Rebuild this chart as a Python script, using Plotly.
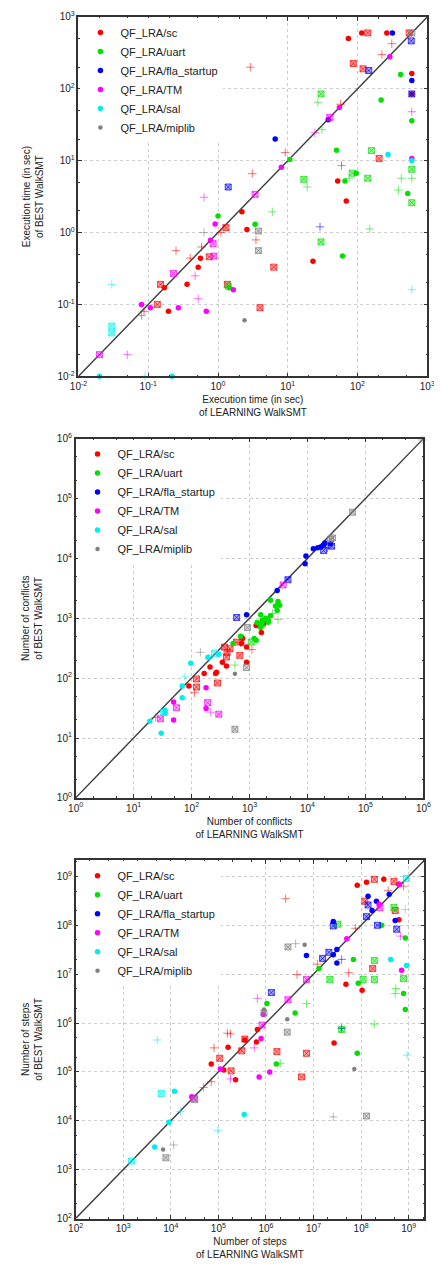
import plotly.graph_objects as go

FAMILIES = ["QF_LRA/sc", "QF_LRA/uart", "QF_LRA/fla_startup", "QF_LRA/TM", "QF_LRA/sal", "QF_LRA/miplib"]

# ---------------- Execution time (sec): (LEARNING, BEST) ----------------
TIME_SC_DOT = [(74, 500), (115, 600), (263, 600), (600, 163), (600, 85), (52, 5.2), (69, 2.75), (2.2, 1.94), (2.6, 1.1), (23, 0.40), (0.56, 0.44), (0.52, 0.33), (0.36, 0.19), (0.17, 0.17), (0.195, 0.08)]
TIME_SC_BOX = [(140, 600), (550, 600), (87, 225), (120, 190), (204, 10.7), (1.3, 1.17), (6.3, 0.33), (0.75, 0.46), (0.15, 0.19), (0.135, 0.1), (1.36, 0.19), (4.0, 0.09)]
TIME_SC_PLUS = [(310, 425), (224, 300), (2.9, 200), (57, 61), (9.2, 13), (59, 8.6), (3.1, 6.6), (1.1, 1.0), (3.5, 0.79), (0.58, 0.63), (0.4, 0.44), (0.25, 0.56), (0.087, 0.08)]
TIME_UART_DOT = [(415, 158), (218, 70), (600, 36), (50, 14), (10.7, 10.4), (96, 6.7), (66, 5.2), (525, 3.5), (1.0, 1.7), (3.4, 1.3), (61, 0.47), (1.45, 0.17)]
TIME_UART_BOX = [(30, 85), (158, 13.8), (84, 6.7), (140, 5.7), (17, 5.5), (600, 7.6), (600, 2.6), (30, 0.74), (1.4, 0.18)]
TIME_UART_PLUS = [(27, 65), (31, 27), (600, 5.7), (425, 5.7), (386, 3.9), (76, 5.7), (19, 4.3), (6, 1.94), (150, 1.12)]
TIME_FLA_DOT = [(316, 600), (600, 131), (38, 37), (6.6, 20)]
TIME_FLA_BOX = [(590, 465), (145, 180), (600, 85), (1.4, 4.3)]
TIME_FLA_PLUS = [(29, 1.2)]
TIME_TM_DOT = [(290, 280), (55, 55), (8.1, 8.1), (600, 10.7), (0.91, 1.32), (0.78, 0.78), (1.66, 0.16), (0.08, 0.1), (0.107, 0.09), (0.27, 0.09), (0.68, 0.08)]
TIME_TM_BOX = [(40, 40), (3.4, 3.4), (0.85, 0.7), (0.87, 0.47), (0.23, 0.27), (0.02, 0.02)]
TIME_TM_PLUS = [(24.5, 24.5), (600, 48), (0.63, 3.1), (0.47, 0.25), (0.52, 0.12), (0.08, 0.07), (0.05, 0.02)]
TIME_SAL_DOT = [(274, 12.2), (600, 10), (0.02, 0.01), (0.22, 0.01)]
TIME_SAL_BOX = [(0.03, 0.05), (0.03, 0.04)]
TIME_SAL_PLUS = [(600, 0.16), (0.03, 0.19), (0.09, 0.01)]
TIME_MIP_DOT = [(2.4, 0.06)]
TIME_MIP_BOX = [(600, 600), (3.8, 1.05), (3.8, 0.56)]
TIME_MIP_PLUS = [(0.63, 1.0)]

# ---------------- Number of conflicts: (LEARNING, BEST) ----------------
CONF_SC_DOT = [(1300, 760), (1600, 580), (760, 460), (730, 380), (890, 330), (340, 185), (400, 160), (890, 185), (270, 126), (260, 120), (208, 153), (165, 120), (90, 74), (730, 480), (1750, 820)]
CONF_SC_BOX = [(680, 240), (370, 330), (410, 270), (460, 310), (400, 225), (280, 83), (122, 97), (122, 71), (600, 400)]
CONF_SC_PLUS = [(1100, 300), (112, 57), (700, 390), (1900, 850)]
CONF_UART_DOT = [(2300, 2000), (3100, 1900), (2800, 1600), (3300, 1650), (3000, 1350), (1560, 1150), (1900, 1000), (2100, 930), (2300, 1100), (1650, 930), (1350, 850), (1560, 700), (1200, 460), (1600, 820), (2100, 860), (700, 500), (520, 380), (1300, 430)]
CONF_UART_BOX = [(1070, 400), (1600, 780)]
CONF_UART_PLUS = [(3100, 950), (560, 165), (2500, 1200)]
CONF_FLA_DOT = [(12600, 14500), (15000, 15000), (19000, 16700), (20000, 18000), (25000, 17500), (9400, 11000), (9100, 8100), (3000, 2900), (890, 1150), (17000, 15500)]
CONF_FLA_BOX = [(19000, 13500), (4600, 4400), (600, 1030), (26000, 16000)]
CONF_FLA_PLUS = [(22000, 15000)]
CONF_TM_DOT = [(178, 69), (178, 31), (49, 40), (49, 20)]
CONF_TM_BOX = [(3800, 3600), (190, 39), (295, 25), (55, 32), (29, 21)]
CONF_TM_PLUS = [(215, 27), (24, 22)]
CONF_SAL_DOT = [(192, 224), (295, 250), (97, 178), (69, 74), (69, 47), (35, 29), (35, 26), (19, 19), (30, 12)]
CONF_SAL_BOX = [(250, 260), (33, 27)]
CONF_SAL_PLUS = [(77, 105), (200, 215)]
CONF_MIP_DOT = [(560, 118)]
CONF_MIP_BOX = [(60000, 59000), (25000, 21000), (920, 700), (890, 150), (560, 14), (27000, 22000)]
CONF_MIP_PLUS = [(142, 270), (950000, 950000)]

# ---------------- Number of steps: (LEARNING, BEST) ----------------
STEP_SC_DOT = [(8.3e7, 6.6e8), (1.3e8, 7.6e8), (3.0e8, 8.7e8), (6.2e8, 6.9e8), (6.2e8, 1.3e8), (4.8e7, 6.2e6), (1.05e8, 4.7e6), (2.7e7, 3.9e5), (6.6e5, 7.4e5), (6.3e5, 4.1e5), (1.6e5, 3.2e5), (3.6e5, 4.5e5), (7.1e4, 1.45e5), (1.3e5, 1.1e5), (2.3e5, 6.9e4)]
STEP_SC_BOX = [(1.9e8, 8.7e8), (4.9e8, 7.9e8), (1.2e8, 3.1e8), (5.2e8, 2.0e8), (1.75e8, 1.3e7), (3.6e5, 4.7e5), (3.1e5, 2.7e5), (1.7e6, 2.6e5), (7.1e6, 2.4e5), (1.07e5, 1.9e5), (1.85e5, 1.05e5), (5.6e6, 7.9e4)]
STEP_SC_PLUS = [(3.7e8, 5.1e8), (7.8e8, 6.3e8), (2.6e6, 3.5e8), (7.6e7, 8.7e7), (1.2e7, 1.6e7), (5.5e7, 1.07e7), (4.5e6, 9.8e6), (1.55e5, 6.2e5), (1.8e5, 6.0e5), (8.1e4, 3.1e5), (7.1e4, 6.3e4)]
STEP_UART_DOT = [(2.7e8, 1.0e8), (8.5e8, 5.5e7), (6.9e7, 2.0e7), (1.3e7, 1.3e7), (8.7e7, 6.5e6), (7.8e8, 4.0e6), (8.5e8, 1.9e6), (1.05e6, 2.5e6), (4.1e6, 1.6e6), (1.65e6, 1.45e5), (8.3e7, 2.4e5)]
STEP_UART_BOX = [(4.9e8, 2.3e8), (3.2e7, 1.05e8), (1.9e8, 1.9e7), (2.2e7, 7.8e6), (1.1e8, 7.8e6), (1.9e8, 7.8e6), (7.8e8, 8.1e6), (3.9e7, 7.4e5)]
STEP_UART_PLUS = [(5.4e8, 5.1e6), (5.2e8, 4.0e6), (7.1e6, 2.5e6), (1.9e8, 9.5e5), (2.0e6, 1.5e5)]
STEP_FLA_DOT = [(3.9e8, 4.3e8), (2.1e8, 3.1e8), (1.4e8, 3.9e8), (1.7e8, 2.0e8), (5.2e8, 1.25e8), (2.6e7, 1.2e8), (3.1e7, 3.2e7), (2.6e7, 2.5e7), (7.1e6, 2.4e7), (3.1e7, 1.7e7)]
STEP_FLA_BOX = [(1.4e8, 2.6e8), (1.3e8, 1.5e8), (2.2e8, 1.0e8), (5.6e8, 8.3e7), (2.6e7, 9.7e7), (2.1e7, 2.8e7), (1.55e7, 2.1e7), (1.3e6, 4.2e6)]
STEP_FLA_PLUS = [(3.9e7, 2.0e7), (3.9e7, 7.8e5)]
STEP_TM_DOT = [(6.4e8, 6.9e8), (2.4e8, 2.7e8), (5.0e7, 5.3e7), (7.1e8, 1.2e7), (7.9e5, 4.8e5), (1.1e5, 1.15e5), (7.2e5, 7.9e4), (1.2e6, 1.0e5), (2.75e4, 3.1e4), (8.8e5, 1.5e6)]
STEP_TM_BOX = [(2.5e8, 2.3e8), (7.1e6, 7.8e6), (2.9e6, 3.0e6), (8.3e5, 9.1e5), (3.1e4, 2.9e4)]
STEP_TM_PLUS = [(6.7e8, 6.0e7), (6.6e5, 3.2e6), (5.7e5, 3.1e5), (1.8e5, 7.2e4), (4.9e4, 4.8e4)]
STEP_SAL_DOT = [(4.2e8, 2.0e7), (9.0e8, 1.5e7), (1.2e4, 4.0e4), (3.5e5, 1.35e4), (4.6e3, 2.9e3), (9.1e3, 9.3e3)]
STEP_SAL_BOX = [(8.9e8, 9.1e8), (6.3e3, 3.6e4), (1.5e3, 1.5e3)]
STEP_SAL_PLUS = [(8.5e8, 2.1e8), (9.3e8, 2.2e5), (5.2e3, 4.5e5), (1.6e4, 1.55e4), (9.8e4, 6.4e3)]
STEP_MIP_DOT = [(6.5e6, 4.0e7), (9.1e5, 1.9e6), (2.8e6, 1.2e6), (7.2e7, 1.15e5), (6.9e3, 2.6e3)]
STEP_MIP_BOX = [(2.9e6, 3.6e7), (2.8e6, 6.5e5), (9.1e5, 1.6e6), (1.3e8, 1.25e4), (7.9e3, 1.75e3), (3.2e4, 2.7e4)]
STEP_MIP_PLUS = [(4.2e6, 4.2e7), (2.6e7, 1.2e4), (1.15e4, 3.2e3)]

TIME_EXPONENTS = [-2, -1, 0, 1, 2, 3]
CONF_EXPONENTS = [0, 1, 2, 3, 4, 5, 6]
STEP_EXPONENTS = [2, 3, 4, 5, 6, 7, 8, 9]

TIME_TITLES = ("Execution time (in sec)<br>of LEARNING WalkSMT", "Execution time (in sec)<br>of BEST WalkSMT")
CONF_TITLES = ("Number of conflicts<br>of LEARNING WalkSMT", "Number of conflicts<br>of BEST WalkSMT")
STEP_TITLES = ("Number of steps<br>of LEARNING WalkSMT", "Number of steps<br>of BEST WalkSMT")

# ---------------------------------------------------------------------------
OFF = 8                      # page body margin of the html page
W, H = 442 - OFF, 1277 - OFF
COLORS = [(255, 0, 0), (0, 225, 0), (0, 0, 255), (255, 0, 255), (0, 238, 238), (128, 128, 128)]
FONT = "Liberation Sans, Arial, Helvetica, sans-serif"
INK = "#222222"

PLOTS = [
    dict(data=[[TIME_SC_DOT, TIME_SC_BOX, TIME_SC_PLUS], [TIME_UART_DOT, TIME_UART_BOX, TIME_UART_PLUS],
               [TIME_FLA_DOT, TIME_FLA_BOX, TIME_FLA_PLUS], [TIME_TM_DOT, TIME_TM_BOX, TIME_TM_PLUS],
               [TIME_SAL_DOT, TIME_SAL_BOX, TIME_SAL_PLUS], [TIME_MIP_DOT, TIME_MIP_BOX, TIME_MIP_PLUS]],
         exps=TIME_EXPONENTS, rng=[-2, 3], titles=TIME_TITLES, px=(72, 435, 10, 373)),
    dict(data=[[CONF_SC_DOT, CONF_SC_BOX, CONF_SC_PLUS], [CONF_UART_DOT, CONF_UART_BOX, CONF_UART_PLUS],
               [CONF_FLA_DOT, CONF_FLA_BOX, CONF_FLA_PLUS], [CONF_TM_DOT, CONF_TM_BOX, CONF_TM_PLUS],
               [CONF_SAL_DOT, CONF_SAL_BOX, CONF_SAL_PLUS], [CONF_MIP_DOT, CONF_MIP_BOX, CONF_MIP_PLUS]],
         exps=CONF_EXPONENTS, rng=[0, 6], titles=CONF_TITLES, px=(69, 431, 436, 799)),
    dict(data=[[STEP_SC_DOT, STEP_SC_BOX, STEP_SC_PLUS], [STEP_UART_DOT, STEP_UART_BOX, STEP_UART_PLUS],
               [STEP_FLA_DOT, STEP_FLA_BOX, STEP_FLA_PLUS], [STEP_TM_DOT, STEP_TM_BOX, STEP_TM_PLUS],
               [STEP_SAL_DOT, STEP_SAL_BOX, STEP_SAL_PLUS], [STEP_MIP_DOT, STEP_MIP_BOX, STEP_MIP_PLUS]],
         exps=STEP_EXPONENTS, rng=[2, 9.33], titles=STEP_TITLES, px=(69, 432, 862, 1224)),
]


def rgba(c, a):
    return "rgba(%d,%d,%d,%.2f)" % (c[0], c[1], c[2], a)


fig = go.Figure()
layout = dict(width=W, height=H, margin=dict(l=0, r=0, t=0, b=0),
              paper_bgcolor="white", plot_bgcolor="white",
              font=dict(family=FONT, size=10, color=INK), showlegend=True)

for i, p in enumerate(PLOTS):
    sfx = "" if i == 0 else str(i + 1)
    xa, ya = "x" + sfx, "y" + sfx
    leg = "legend" + sfx
    lo, hi = 10 ** p["rng"][0], 10 ** p["rng"][1]
    # diagonal y = x
    fig.add_trace(go.Scatter(x=[lo, hi], y=[lo, hi], mode="lines", xaxis=xa, yaxis=ya,
                             line=dict(color="#3c3c3c", width=1.4), showlegend=False, hoverinfo="skip"))
    for fam, (name, groups) in enumerate(zip(FAMILIES, p["data"])):
        c = COLORS[fam]
        dots, boxes, pluses = groups
        fig.add_trace(go.Scatter(x=[v[0] for v in boxes], y=[v[1] for v in boxes], mode="markers",
                                 xaxis=xa, yaxis=ya, showlegend=False, cliponaxis=False,
                                 marker=dict(symbol="square-x", size=6, color=rgba(c, 0.33),
                                             line=dict(color=rgba(c, 0.7), width=1))))
        fig.add_trace(go.Scatter(x=[v[0] for v in pluses], y=[v[1] for v in pluses], mode="markers",
                                 xaxis=xa, yaxis=ya, showlegend=False, cliponaxis=False,
                                 marker=dict(symbol="cross-thin", size=6, color=rgba(c, 0.55),
                                             line=dict(color=rgba(c, 0.55), width=1))))
        fig.add_trace(go.Scatter(x=[v[0] for v in dots], y=[v[1] for v in dots], mode="markers",
                                 name=name, legend=leg, xaxis=xa, yaxis=ya, cliponaxis=False,
                                 marker=dict(symbol="circle", size=5.5 if fam < 5 else 4.5,
                                             color=rgba(c, 1.0), line=dict(width=0))))

    x0, x1, y0, y1 = [v - OFF for v in p["px"]]
    xdom = [x0 / W, x1 / W]
    ydom = [1 - y1 / H, 1 - y0 / H]
    tickvals = [10 ** e for e in p["exps"]]
    ticktext = ["10<sup>%d</sup>" % e for e in p["exps"]]
    e_lo, e_hi = int(p["rng"][0]), int(p["rng"][1]) + 1
    minor_vals = [m * 10 ** e for e in range(e_lo, e_hi) for m in (2, 5)]
    common = dict(type="log", range=p["rng"], tickmode="array", tickvals=tickvals, ticktext=ticktext,
                  ticks="inside", ticklen=4, tickwidth=1, tickcolor="#333333", mirror="allticks",
                  showline=True, linecolor="#333333", linewidth=1.5,
                  showgrid=True, gridcolor="#cccccc", griddash="3px,3px", gridwidth=0.8,
                  zeroline=False, tickfont=dict(size=10, color=INK, family=FONT),
                  minor=dict(tickmode="array", tickvals=minor_vals, ticks="inside", ticklen=2,
                             tickcolor="#333333", showgrid=False))
    layout["xaxis" + sfx] = dict(common, domain=xdom, anchor=ya,
                                 title=dict(text=p["titles"][0], font=dict(size=10, color=INK), standoff=5))
    layout["yaxis" + sfx] = dict(common, domain=ydom, anchor=xa,
                                 title=dict(text=p["titles"][1], font=dict(size=10, color=INK), standoff=12))
    layout[leg] = dict(x=(x0 + 2) / W, y=1 - (y0 + 1) / H, xanchor="left", yanchor="top",
                       bgcolor="white", borderwidth=0, font=dict(size=11, color=INK, family=FONT),
                       itemwidth=30, tracegroupgap=0)

fig.update_layout(**layout)
fig.write_html("out.html")
